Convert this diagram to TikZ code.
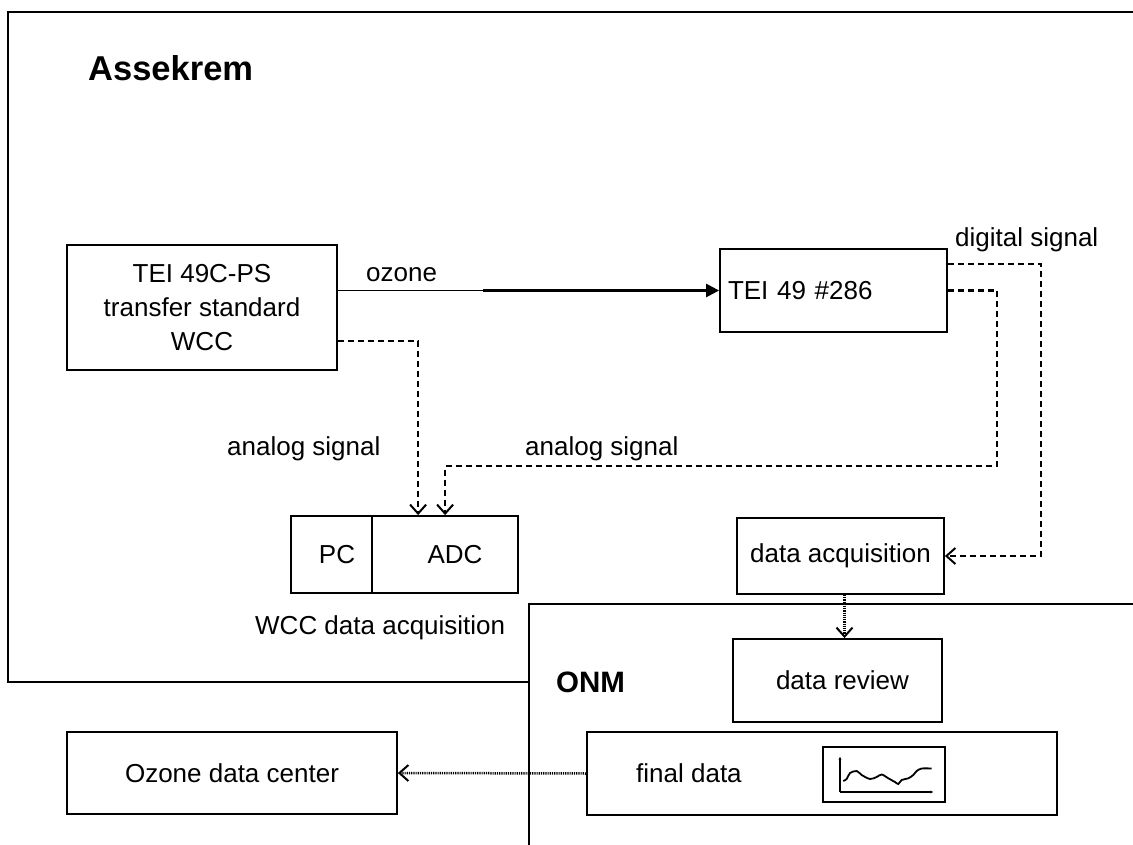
\documentclass[tikz,border=0pt]{standalone}
\usepackage{fontspec}
\setmainfont{Liberation Sans}
\usetikzlibrary{arrows.meta,calc}
\begin{document}
\begin{tikzpicture}[x=1pt,y=-1pt,
  box/.style={draw, line width=1.8pt, inner sep=0pt, font=\fontsize{26}{34}\selectfont, align=center},
  lbl/.style={inner sep=0pt, font=\fontsize{26}{34}\selectfont},
  ttl/.style={inner sep=0pt, anchor=base west, font=\fontsize{34.5}{40}\selectfont\bfseries},
  frame/.style={line width=2pt},
  barb/.style={-{Straight Barb[length=9pt,width=16pt,line width=2pt]}},
  dsh/.style={barb, line width=2.5pt, dash pattern=on 6pt off 4pt},
  dotl/.style={barb, line width=2.5pt, dash pattern=on 1.2pt off 1pt}
]
\useasboundingbox (0,0) rectangle (1133,845);

% frames
\draw[frame] (1133,12) -- (8,12) -- (8,682) -- (529,682);
\draw[frame] (529,845) -- (529,604) -- (1133,604);

\node[ttl] (ass) at (88,81) {Assekrem};
\node[ttl, font=\fontsize{29.5}{36}\selectfont\bfseries] (onm) at (556,692) {ONM};

% boxes
\node[box, minimum width=270, minimum height=125] (ps) at (202,307.5) {TEI 49C-PS\\transfer standard\\WCC};
\node[box, minimum height=83, text width=211, inner xsep=8pt, align=left] (tei) at (833.5,290.5) {TEI 49 \#286};
\node[box, minimum width=81, minimum height=77] (pc) at (331.5,554.5) {\hspace*{11pt}PC};
\node[box, minimum width=146, minimum height=77] (adc) at (445,554.5) {\hspace*{20pt}ADC};
\node[box, minimum width=207, minimum height=76] (daq) at (840.5,556) {data acquisition};
\node[box, minimum width=209, minimum height=83] (rev) at (837.5,680.5) {\hspace*{10pt}data review};
\node[box, minimum width=470, minimum height=83] (fin) at (822,773.5) {};
\node[box, minimum width=330, minimum height=82] (odc) at (232,773) {Ozone data center};
\node[box, line width=2.2pt, minimum width=122, minimum height=55] (icon) at (884,774.5) {};

% labels
\node[lbl, anchor=base west] (fd) at (636,782) {final data};
\node[lbl, anchor=base west] (ozl) at (366,281) {ozone};
\node[lbl, anchor=base west] (dig) at (955,247) {digital signal};
\node[lbl, anchor=base west] (an1) at (227,455) {analog signal};
\node[lbl, anchor=base west] (an2) at (525,455) {analog signal};
\node[lbl, anchor=base west] (wcc) at (255,634) {WCC data acquisition};

% ozone flow
\coordinate (ozm) at (483,290.5);
\draw[line width=1.8pt] (ps.east |- tei.west) -- (ozm);
\draw[line width=2.5pt, -{Triangle[length=13pt,width=13pt]}] (ozm) -- (tei.west);

% signals
\draw[dsh] ($(ps.north east)+(0,97)$) -| ($(adc.north west)+(47,0)$);
\draw[dsh] (tei.east) -| (997,466) -| ($(adc.north west)+(74,0)$);
\draw[dsh] ($(tei.north east)+(0,16)$) -| ($(daq.east)+(96,0)$) -- (daq.east);
\draw[dotl] ($(daq.south)+(4,0)$) -- ($(rev.north -| daq.south)+(4,0)$);
\draw[dotl] (fin.west) -- (odc.east);

% icon
\draw[line width=1.4pt, -{Latex[length=4pt,width=3pt]}] (840,792) -- (840,756);
\draw[line width=1.4pt, -{Latex[length=4pt,width=3pt]}] (840,792) -- (934,792);
\draw[line width=1.8pt] plot[smooth] coordinates {(843.3,781) (846.7,779) (850,773) (856.7,771) (861.7,775) (870,779) (876.7,777) (881.7,774.5) (888.3,778.3) (895,782) (898.3,784) (901.7,780) (908.3,778.3) (913.3,775) (916.7,771) (921.7,768.5) (931.7,768.5)};
\end{tikzpicture}
\end{document}
